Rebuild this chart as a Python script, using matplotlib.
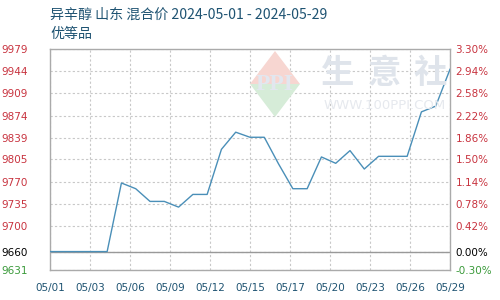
import matplotlib
matplotlib.use("Agg")
import matplotlib.pyplot as plt
from matplotlib.patches import Polygon
import numpy as np

# ---- data ----
days = list(range(29))  # 2024-05-01 .. 2024-05-29
prices = [9660, 9660, 9660, 9660, 9660, 9768, 9759, 9739, 9739, 9730,
          9750, 9750, 9821, 9848, 9840, 9840, 9798, 9759, 9759, 9809,
          9799, 9819, 9790, 9810, 9810, 9810, 9880, 9889, 9947]
x_tick_labels = ["05/01", "05/03", "05/06", "05/09", "05/12", "05/15",
                 "05/17", "05/20", "05/23", "05/26", "05/29"]
y_ticks = [9631, 9660, 9700, 9735, 9770, 9805, 9839, 9874, 9909, 9944, 9979]
pct_labels = ["-0.30%", "0.00%", "0.42%", "0.78%", "1.14%", "1.50%",
              "1.86%", "2.22%", "2.58%", "2.94%", "3.30%"]
base_price = 9660
title_line1 = "异辛醇 山东 混合价 2024-05-01 - 2024-05-29"
title_line2 = "优等品"

RED = "#c8333f"
GREEN = "#3a9a3a"
BLUE_TXT = "#1e5372"
LINE = "#4a8fb8"
GRID = "#c8c8c8"
CJK = ["Noto Sans CJK SC", "DejaVu Sans"]

fig = plt.figure(figsize=(5, 3), dpi=100)
ax = fig.add_axes([0.1, 0.1, 0.8, 0.7367])

# watermark logo (decoration)
W, H = 500, 300
def fx(px): return px / W
def fy(py): return 1 - py / H
cx, cy, hw, hh = 275, 84, 25, 33
top = Polygon([(fx(cx - hw), fy(cy)), (fx(cx), fy(cy - hh)), (fx(cx + hw), fy(cy))],
              closed=True, transform=fig.transFigure, facecolor="#f7d6d1",
              edgecolor="none", zorder=0.5)
bot = Polygon([(fx(cx - hw), fy(cy)), (fx(cx), fy(cy + hh)), (fx(cx + hw), fy(cy))],
              closed=True, transform=fig.transFigure, facecolor="#d6ecd8",
              edgecolor="none", zorder=0.5)
fig.patches.extend([top, bot])
fig.text(fx(cx), fy(cy), "PPI", transform=fig.transFigure, ha="center", va="center",
         fontsize=17, family="Liberation Serif", fontweight="bold", color="#e2e7ef",
         zorder=0.6)
for ch, px in zip("生意社", [338, 384, 430]):
    fig.text(fx(px), fy(73), ch, ha="center", va="center", fontsize=24,
             family=CJK, fontweight="bold", color="#dfe4eb", zorder=0.6)
fig.text(fx(385), fy(106), "WWW.100PPI.COM", ha="center", va="center",
         fontsize=9.5, color="#e6e9ee", zorder=0.6)

ax.set_facecolor("none")
ax.plot(days, prices, color=LINE, lw=1.0, zorder=3)
ax.axhline(base_price, color="#999999", lw=1.0, zorder=2)

ax.set_xlim(0, 28)
ax.set_ylim(y_ticks[0], y_ticks[-1])
xt = np.linspace(0, 28, len(x_tick_labels))
ax.set_xticks(xt)
ax.set_xticklabels(x_tick_labels, fontsize=7.5, color=BLUE_TXT)
ax.set_yticks(y_ticks)
ax.set_yticklabels([str(v) for v in y_ticks], fontsize=7.5)
for lab, v in zip(ax.get_yticklabels(), y_ticks):
    lab.set_color(GREEN if v < base_price else ("black" if v == base_price else RED))
ax.grid(True, color=GRID, ls=(0, (2, 2)), lw=0.8)
ax.tick_params(length=0, pad=9)
ax.tick_params(axis="y", pad=16)
for s in ax.spines.values():
    s.set_color("#aaaaaa")
    s.set_linewidth(1.0)

ax2 = ax.twinx()
ax2.set_ylim(ax.get_ylim())
ax2.set_yticks(y_ticks)
ax2.set_yticklabels(pct_labels, fontsize=7.5)
for lab, v in zip(ax2.get_yticklabels(), y_ticks):
    lab.set_color(GREEN if v < base_price else ("black" if v == base_price else RED))
ax2.tick_params(length=0, pad=4)
for s in ax2.spines.values():
    s.set_visible(False)

fig.text(0.1, fy(15), title_line1, ha="left", va="center", fontsize=10.1,
         family=CJK, color=BLUE_TXT)
fig.text(0.1, fy(34), title_line2, ha="left", va="center", fontsize=10.1,
         family=CJK, color=BLUE_TXT)

fig.savefig("out.png", dpi=100)
